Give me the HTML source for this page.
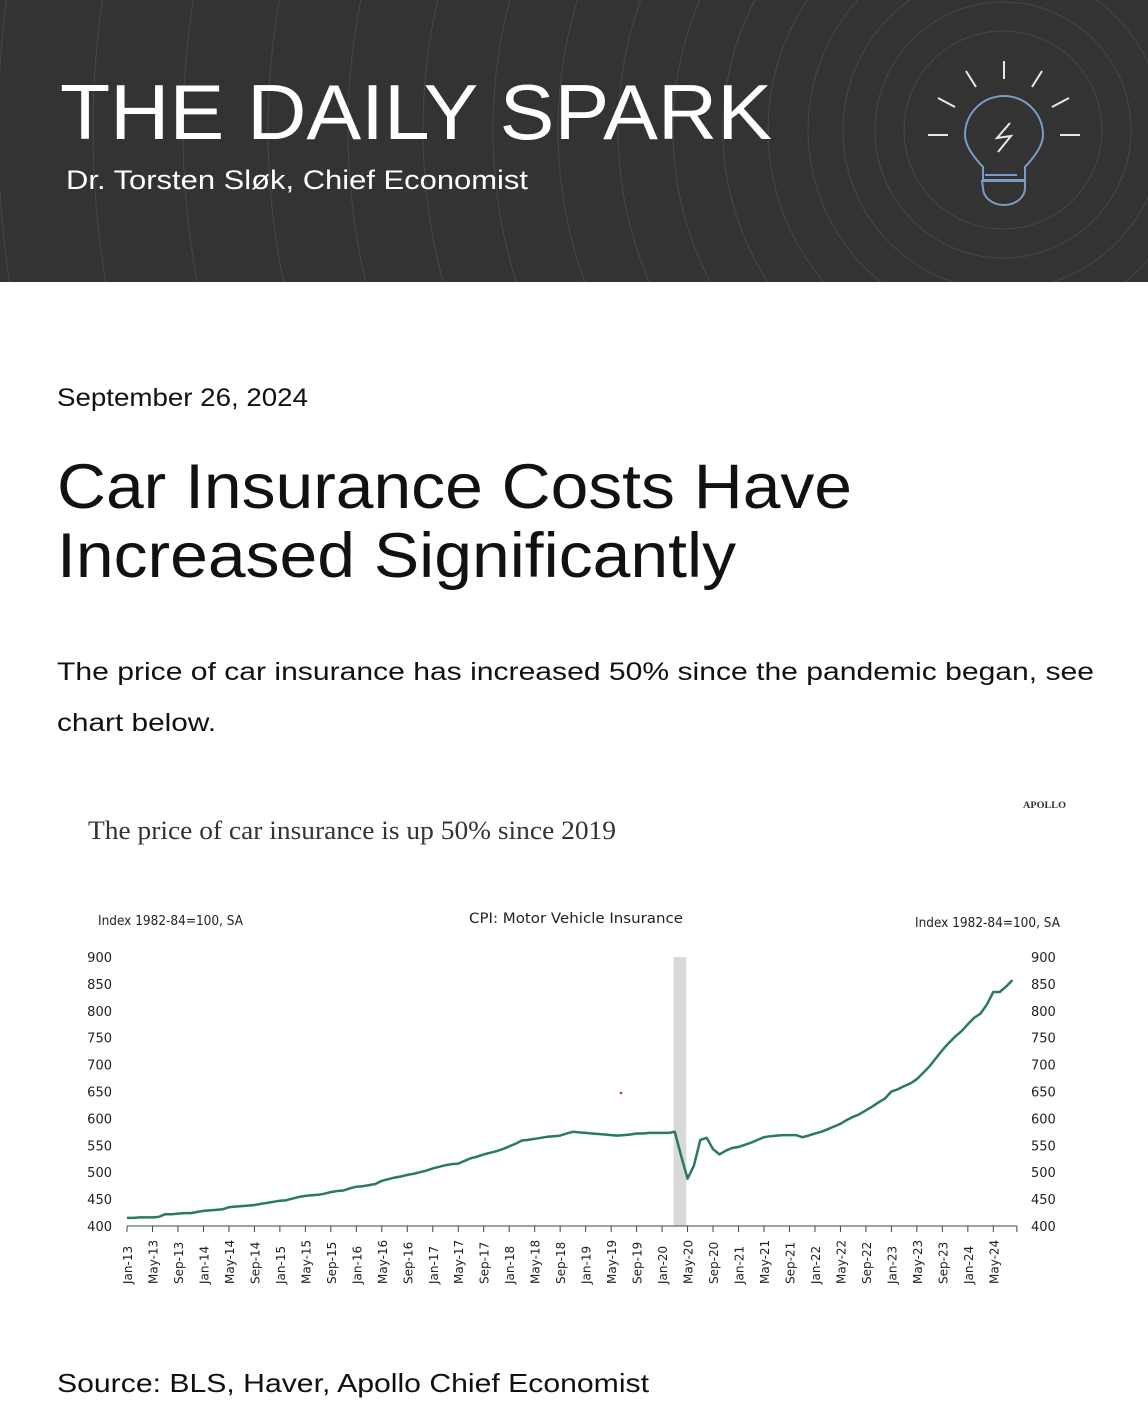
<!DOCTYPE html>
<html><head><meta charset="utf-8">
<style>
html,body{margin:0;padding:0;background:#fff;}
body{width:1148px;height:1406px;overflow:hidden;position:relative;}
svg{display:block;}
</style></head>
<body>
<svg id="page" width="1148" height="1406" viewBox="0 0 1148 1406" xmlns="http://www.w3.org/2000/svg">
  <g>
    <rect x="0" y="0" width="1148" height="282" fill="#333333"/>
    <clipPath id="hc"><rect x="0" y="0" width="1148" height="282"/></clipPath>
    <g clip-path="url(#hc)" fill="none" stroke="#474747" stroke-width="1">
      <circle cx="1003" cy="130" r="99"/>
      <circle cx="1003" cy="130" r="128"/>
      <circle cx="1003" cy="130" r="160"/>
      <circle cx="1003" cy="130" r="195"/>
      <circle cx="1003" cy="130" r="235"/>
      <circle cx="1003" cy="130" r="280"/>
      <circle cx="1003" cy="130" r="330"/>
      <circle cx="1003" cy="130" r="385"/>
      <circle cx="1003" cy="130" r="445"/>
      <circle cx="1003" cy="130" r="510"/>
      <circle cx="1003" cy="130" r="580"/>
      <circle cx="1003" cy="130" r="655"/>
      <circle cx="1003" cy="130" r="735"/>
      <circle cx="1003" cy="130" r="820"/>
      <circle cx="1003" cy="130" r="910"/>
      <circle cx="1003" cy="130" r="1005"/>
    </g>
    <text x="60" y="139" font-family="Liberation Sans, sans-serif" font-size="78" fill="#ffffff" textLength="712" lengthAdjust="spacingAndGlyphs">THE DAILY SPARK</text>
    <text x="66" y="189" font-family="Liberation Sans, sans-serif" font-size="27" fill="#ffffff" textLength="462" lengthAdjust="spacingAndGlyphs">Dr. Torsten Sløk, Chief Economist</text>
    <g>
      <g stroke="#e8e8e8" stroke-width="2" fill="none">
        <line x1="1004" y1="61" x2="1004" y2="79"/>
        <line x1="966" y1="71" x2="976" y2="87"/>
        <line x1="1042" y1="71" x2="1032" y2="87"/>
        <line x1="938" y1="98" x2="955" y2="107"/>
        <line x1="1069" y1="98" x2="1052" y2="107"/>
        <line x1="928" y1="135" x2="948" y2="135"/>
        <line x1="1060" y1="135" x2="1080" y2="135"/>
        <polyline points="1010,123 997,138 1011,136 998,152"/>
      </g>
      <path d="M983,175 L983,167 Q965,148 965,135 A38,38 0 1 1 1043,135 Q1043,148 1025,167 L1025,180 L983,180 Z M985,175 L1017,175" stroke="#7b9cc7" stroke-width="2" fill="none"/>
      <path d="M982,181 L1025,181 L1025,188 A21,17 0 0 1 983,188 Z" stroke="#7b9cc7" stroke-width="2" fill="none"/>
    </g>
  </g>

  <text x="57" y="406" font-family="Liberation Sans, sans-serif" font-size="25" fill="#111" textLength="251" lengthAdjust="spacingAndGlyphs">September 26, 2024</text>
  <text x="57" y="508" font-family="Liberation Sans, sans-serif" font-size="63" fill="#111" textLength="795" lengthAdjust="spacingAndGlyphs">Car Insurance Costs Have</text>
  <text x="57" y="577" font-family="Liberation Sans, sans-serif" font-size="63" fill="#111" textLength="679" lengthAdjust="spacingAndGlyphs">Increased Significantly</text>
  <text x="57" y="680" font-family="Liberation Sans, sans-serif" font-size="25" fill="#111" textLength="1037" lengthAdjust="spacingAndGlyphs">The price of car insurance has increased 50% since the pandemic began, see</text>
  <text x="57" y="731" font-family="Liberation Sans, sans-serif" font-size="25" fill="#111" textLength="159" lengthAdjust="spacingAndGlyphs">chart below.</text>

  <g id="chart">
    <text x="1023" y="808" font-family="Liberation Serif, serif" font-size="9" font-weight="bold" fill="#333" textLength="43" lengthAdjust="spacingAndGlyphs">APOLLO</text>
    <text x="88" y="839" font-family="Liberation Serif, serif" font-size="26" fill="#333" textLength="528" lengthAdjust="spacingAndGlyphs">The price of car insurance is up 50% since 2019</text>
    <text x="98" y="925" font-family="DejaVu Sans, sans-serif" font-size="13" fill="#222" textLength="145" lengthAdjust="spacingAndGlyphs">Index 1982-84=100, SA</text>
    <text x="469" y="923" font-family="DejaVu Sans, sans-serif" font-size="14" fill="#222" textLength="214" lengthAdjust="spacingAndGlyphs">CPI: Motor Vehicle Insurance</text>
    <text x="915" y="927" font-family="DejaVu Sans, sans-serif" font-size="13" fill="#222" textLength="145" lengthAdjust="spacingAndGlyphs">Index 1982-84=100, SA</text>
    <circle cx="621" cy="1093" r="1.3" fill="#c0392b"/>
    <g id="marks"></g>
  </g>

  <text x="57" y="1392" font-family="Liberation Sans, sans-serif" font-size="26" fill="#111" textLength="592" lengthAdjust="spacingAndGlyphs">Source: BLS, Haver, Apollo Chief Economist</text>
</svg>
<script>
const months = ["Jan","Feb","Mar","Apr","May","Jun","Jul","Aug","Sep","Oct","Nov","Dec"];
const startYear = 13;
const cpiValues = [
415,415,416,416,416,417,422,422,423,424,424,426,
428,429,430,431,435,436,437,438,439,441,443,445,
447,448,451,454,456,457,458,460,463,465,466,470,
473,474,476,478,484,487,490,492,495,497,500,503,
507,510,513,515,516,521,526,529,533,536,539,543,
548,553,559,560,562,564,566,567,568,572,575,574,
573,572,571,570,569,568,569,570,572,572,573,573,
573,573,575,530,488,512,560,564,543,533,540,545,
547,551,555,560,565,567,568,569,569,569,565,568,
572,575,580,585,590,597,603,608,615,622,630,637,
650,654,660,665,673,685,697,712,727,740,752,762,
775,787,795,812,835,835,845,857];
const yTicks = [400,450,500,550,600,650,700,750,800,850,900];
const recession = [85.8, 87.8];
const tickEvery = 4;

const NS = "http://www.w3.org/2000/svg";
const g = document.getElementById("marks");
const X0 = 127, XS = 6.37, Y0 = 1226, YMIN = 400, YS = 269/500;
const xScale = i => X0 + i * XS;
const yScale = v => Y0 - (v - YMIN) * YS;
function mk(tag, attrs) { const e = document.createElementNS(NS, tag); for (const k in attrs) e.setAttribute(k, attrs[k]); g.appendChild(e); return e; }

const band = mk("rect", {x: xScale(recession[0]), y: yScale(900), width: xScale(recession[1]) - xScale(recession[0]), height: yScale(400) - yScale(900), fill: "#d9d9d9"});



const nPts = cpiValues.length;
const axisEnd = xScale(nPts - 0.3);
const ax = mk("line", {x1: X0, y1: Y0, x2: axisEnd, y2: Y0, stroke: "#444", "stroke-width": 1});



for (let i = 0; i < nPts; i += tickEvery) {
  const x = xScale(i);
  const t = mk("line", {x1: x, y1: Y0, x2: x, y2: Y0 + 6, stroke: "#444", "stroke-width": 1});
  
  
  const label = months[i % 12] + "-" + (startYear + Math.floor(i / 12));
  const tx = mk("text", {x: 0, y: 0, transform: `translate(${x + 5},${Y0 + 58}) rotate(-90)`, "font-family": "DejaVu Sans, sans-serif", "font-size": 12, fill: "#222"});
  tx.textContent = label;
  
  
}
const tEnd = mk("line", {x1: axisEnd, y1: Y0, x2: axisEnd, y2: Y0 + 6, stroke: "#444", "stroke-width": 1});



yTicks.forEach(v => {
  const l = mk("text", {x: 112, y: yScale(v) + 5, "text-anchor": "end", "font-family": "DejaVu Sans, sans-serif", "font-size": 13, fill: "#222"});
  l.textContent = v;
  
  
  const r = mk("text", {x: 1031, y: yScale(v) + 5, "font-family": "DejaVu Sans, sans-serif", "font-size": 13, fill: "#222"});
  r.textContent = v;
  
  
});

const pts = cpiValues.map((v, i) => xScale(i).toFixed(1) + "," + yScale(v).toFixed(1)).join(" ");
const line = mk("polyline", {points: pts, fill: "none", stroke: "#2a7a5e", "stroke-width": 2.5, "stroke-linejoin": "round"});


</script>
</body></html>
